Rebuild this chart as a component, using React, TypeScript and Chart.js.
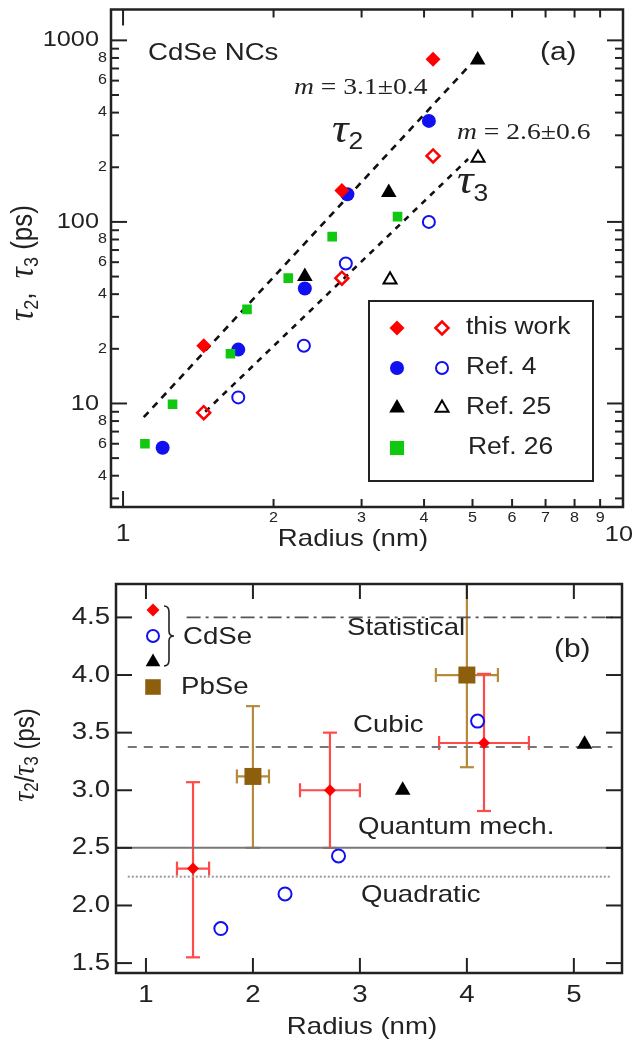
import React, { useEffect, useRef } from "react";
import { Chart, registerables } from "chart.js";
Chart.register(...registerables);

// ---------- Panel (a) data: radius (nm) vs tau (ps) ----------
const thisWorkR = [1.45, 2.74, 4.17];
const thisWorkTau2 = [20.8, 149, 787];
const thisWorkTau3 = [8.9, 49, 231];
const ref4Tau2R = [1.2, 1.7, 2.31, 2.81, 4.09];
const ref4Tau2 = [5.7, 19.8, 43, 142, 360];
const ref4Tau3R = [1.7, 2.3, 2.79, 4.09];
const ref4Tau3 = [10.8, 20.8, 59, 100];
const ref25Tau2R = [2.31, 3.4, 5.12];
const ref25Tau2 = [50, 145, 780];
const ref25Tau3R = [3.42, 5.13];
const ref25Tau3 = [48, 225];
const ref26R = [1.106, 1.256, 1.64, 1.77, 2.14, 2.62, 3.54];
const ref26Tau = [6.0, 9.9, 18.8, 33, 49, 83, 107];
const fitTau2R = [1.1, 4.95];
const fitTau2 = [8.4, 735];
const fitTau3R = [1.46, 4.9];
const fitTau3 = [9.0, 222];

const aXMajor = [1, 10];
const aXMinor = [2, 3, 4, 5, 6, 7, 8, 9];
const aYMajor = [10, 100, 1000];
const aYMinor = [3, 4, 5, 6, 7, 8, 9, 20, 30, 40, 50, 60, 70, 80, 90, 200, 300, 400, 500, 600, 700, 800, 900];
const aYMinorLabeled = [4, 6, 8, 20, 40, 60, 80, 200, 400, 600, 800];

// ---------- Panel (b) data: radius (nm) vs tau2/tau3 ----------
const twR = [1.44, 2.72, 4.16];
const twRatio = [2.32, 3.0, 3.41];
const twRErr = [0.15, 0.28, 0.42];
const twRatioLo = [1.55, 2.5, 2.82];
const twRatioHi = [3.07, 3.5, 4.01];
const pbR = [2.0, 4.0];
const pbRatio = [3.12, 4.0];
const pbRErr = [0.15, 0.29];
const pbRatioLo = [2.5, 3.2];
const pbRatioHi = [3.73, 4.95];
const r4R = [1.7, 2.3, 2.8, 4.1];
const r4Ratio = [1.8, 2.1, 2.43, 3.6];
const r25R = [3.4, 5.1];
const r25Ratio = [3.0, 3.4];
const statR = [1.38, 5.36];
const statVal = 4.5;
const cubicR = [0.83, 5.36];
const cubicVal = 3.375;
const quantR = [0.72, 5.45];
const quantVal = 2.5;
const quadR = [0.83, 5.35];
const quadVal = 2.25;

const bXTicks = [1, 2, 3, 4, 5];
const bYTicks = [1.5, 2.0, 2.5, 3.0, 3.5, 4.0, 4.5];

// ---------- helpers ----------
const SANS = '"Liberation Sans", Arial, Helvetica, sans-serif';
const SERIF = '"Liberation Serif", "Times New Roman", serif';
const SX = 1.15;
const INK = "#222";
const OFF_B = 572;

type Part = { t: string; f: string; dy?: number };

function rich(ctx: CanvasRenderingContext2D, parts: Part[], x: number, y: number, align: string, rot = 0, color = INK) {
  ctx.save();
  ctx.translate(x, y);
  ctx.scale(SX, 1);
  if (rot) ctx.rotate(rot);
  ctx.textBaseline = "middle";
  ctx.textAlign = "left";
  ctx.fillStyle = color;
  let w = 0;
  for (const p of parts) {
    ctx.font = p.f;
    w += ctx.measureText(p.t).width;
  }
  let cx = align === "left" ? 0 : align === "center" ? -w / 2 : -w;
  for (const p of parts) {
    ctx.font = p.f;
    ctx.fillText(p.t, cx, p.dy || 0);
    cx += ctx.measureText(p.t).width;
  }
  ctx.restore();
}

function txt(ctx: CanvasRenderingContext2D, t: string, f: string, x: number, y: number, align: string) {
  rich(ctx, [{ t, f }], x, y, align);
}

function marker(ctx: CanvasRenderingContext2D, style: string, x: number, y: number, r: number, fill: string | null, stroke: string | null, lw: number) {
  ctx.save();
  ctx.beginPath();
  if (style === "circle") ctx.arc(x, y, r, 0, Math.PI * 2);
  else if (style === "rectRot") {
    ctx.moveTo(x - r, y);
    ctx.lineTo(x, y - r);
    ctx.lineTo(x + r, y);
    ctx.lineTo(x, y + r);
    ctx.closePath();
  } else if (style === "triangle") {
    ctx.moveTo(x, y - r);
    ctx.lineTo(x + 0.866 * r, y + 0.5 * r);
    ctx.lineTo(x - 0.866 * r, y + 0.5 * r);
    ctx.closePath();
  } else {
    const s = r * Math.SQRT1_2;
    ctx.rect(x - s, y - s, 2 * s, 2 * s);
  }
  if (fill) {
    ctx.fillStyle = fill;
    ctx.fill();
  }
  if (stroke) {
    ctx.strokeStyle = stroke;
    ctx.lineWidth = lw;
    ctx.stroke();
  }
  ctx.restore();
}

function seg(ctx: CanvasRenderingContext2D, x1: number, y1: number, x2: number, y2: number) {
  ctx.beginPath();
  ctx.moveTo(x1, y1);
  ctx.lineTo(x2, y2);
  ctx.stroke();
}

const pts = (xs: number[], ys: number[]) => xs.map((x, i) => ({ x, y: ys[i] }));
const hpts = (xs: number[], v: number) => xs.map((x) => ({ x, y: v }));

const RED = "#ff0000";
const BLUE = "#1010f0";
const GREEN = "#11c811";
const BROWN = "#8d5e0c";
const BROWN_BAR = "#b58a3c";
const RED_BAR = "#ff4a4a";

// ---------- decoration plugins ----------
const decorA = {
  id: "decorA",
  afterDraw(chart: any) {
    const { ctx, chartArea: a, scales } = chart;
    const x = scales.x;
    const y = scales.y;
    ctx.save();
    ctx.strokeStyle = INK;
    ctx.lineWidth = 2;
    for (const v of aXMajor) {
      const px = x.getPixelForValue(v);
      seg(ctx, px, a.bottom, px, a.bottom - 16);
      seg(ctx, px, a.top, px, a.top + 16);
    }
    for (const v of aXMinor) {
      const px = x.getPixelForValue(v);
      seg(ctx, px, a.bottom, px, a.bottom - 8);
      seg(ctx, px, a.top, px, a.top + 8);
    }
    for (const v of aYMajor) {
      const py = y.getPixelForValue(v);
      seg(ctx, a.left, py, a.left + 16, py);
      seg(ctx, a.right, py, a.right - 16, py);
    }
    for (const v of aYMinor) {
      const py = y.getPixelForValue(v);
      seg(ctx, a.left, py, a.left + 8, py);
      seg(ctx, a.right, py, a.right - 8, py);
    }
    ctx.lineWidth = 2.5;
    ctx.strokeRect(a.left, a.top, a.right - a.left, a.bottom - a.top);

    // tick labels
    txt(ctx, String(aXMajor[0]), `23px ${SANS}`, x.getPixelForValue(aXMajor[0]), 535, "center");
    txt(ctx, String(aXMajor[1]), `22px ${SANS}`, 633, 535, "right");
    for (const v of aXMinor) txt(ctx, String(v), `14px ${SANS}`, x.getPixelForValue(v), 518, "center");
    for (const v of aYMajor) txt(ctx, String(v), `22px ${SANS}`, 99, y.getPixelForValue(v), "right");
    for (const v of aYMinorLabeled) {
      const lead = v / Math.pow(10, Math.floor(Math.log10(v)));
      txt(ctx, String(Math.round(lead)), `14px ${SANS}`, 107, y.getPixelForValue(v), "right");
    }
    // axis titles
    txt(ctx, "Radius (nm)", `24px ${SANS}`, 353, 539, "center");
    rich(
      ctx,
      [
        { t: "τ", f: `italic 31px ${SERIF}` },
        { t: "2", f: `18px ${SANS}`, dy: 7 },
        { t: ",  ", f: `26px ${SANS}` },
        { t: "τ", f: `italic 31px ${SERIF}` },
        { t: "3", f: `18px ${SANS}`, dy: 7 },
        { t: " (ps)", f: `26px ${SANS}` },
      ],
      24,
      263,
      "center",
      -Math.PI / 2
    );
    // annotations
    txt(ctx, "CdSe NCs", `24px ${SANS}`, 148, 53, "left");
    txt(ctx, "(a)", `26px ${SANS}`, 540, 53, "left");
    rich(ctx, [{ t: "m", f: `italic 24px ${SERIF}` }, { t: " = 3.1±0.4", f: `24px ${SERIF}` }], 294, 88, "left");
    rich(ctx, [{ t: "m", f: `italic 24px ${SERIF}` }, { t: " = 2.6±0.6", f: `24px ${SERIF}` }], 457, 133, "left");
    rich(ctx, [{ t: "τ", f: `italic 40px ${SERIF}` }, { t: "2", f: `23px ${SANS}`, dy: 12 }], 332, 131, "left");
    rich(ctx, [{ t: "τ", f: `italic 40px ${SERIF}` }, { t: "3", f: `23px ${SANS}`, dy: 13 }], 457, 182, "left");

    // legend
    ctx.lineWidth = 2;
    ctx.strokeStyle = INK;
    ctx.strokeRect(369, 301, 224, 180);
    const rows = [328, 368, 408, 448];
    marker(ctx, "rectRot", 397, rows[0], 7.5, RED, null, 0);
    marker(ctx, "rectRot", 442, rows[0], 6.5, null, RED, 2.5);
    marker(ctx, "circle", 397, rows[1], 7, BLUE, null, 0);
    marker(ctx, "circle", 442, rows[1], 6, null, BLUE, 2);
    marker(ctx, "triangle", 397, rows[2], 9, "#000", null, 0);
    marker(ctx, "triangle", 442, rows[2], 7.5, null, "#000", 2);
    marker(ctx, "rect", 397, rows[3], 10, GREEN, null, 0);
    txt(ctx, "this work", `23px ${SANS}`, 466, rows[0], "left");
    txt(ctx, "Ref. 4", `23px ${SANS}`, 466, rows[1], "left");
    txt(ctx, "Ref. 25", `23px ${SANS}`, 466, rows[2], "left");
    txt(ctx, "Ref. 26", `23px ${SANS}`, 468, rows[3], "left");
    ctx.restore();
  },
};

function errBars(chart: any, xs: number[], ys: number[], xe: number[], lo: number[], hi: number[], color: string) {
  const { ctx, chartArea: a, scales } = chart;
  const x = scales.x;
  const y = scales.y;
  ctx.save();
  ctx.beginPath();
  ctx.rect(a.left, a.top, a.right - a.left, a.bottom - a.top);
  ctx.clip();
  ctx.strokeStyle = color;
  ctx.lineWidth = 2.2;
  const cap = 7;
  for (let i = 0; i < xs.length; i++) {
    const px = x.getPixelForValue(xs[i]);
    const py = y.getPixelForValue(ys[i]);
    const pLo = y.getPixelForValue(lo[i]);
    const pHi = y.getPixelForValue(hi[i]);
    seg(ctx, px, pLo, px, pHi);
    seg(ctx, px - cap, pLo, px + cap, pLo);
    seg(ctx, px - cap, pHi, px + cap, pHi);
    const pL = x.getPixelForValue(xs[i] - xe[i]);
    const pR = x.getPixelForValue(xs[i] + xe[i]);
    seg(ctx, pL, py, pR, py);
    seg(ctx, pL, py - cap, pL, py + cap);
    seg(ctx, pR, py - cap, pR, py + cap);
  }
  ctx.restore();
}

const decorB = {
  id: "decorB",
  beforeDatasetsDraw(chart: any) {
    errBars(chart, pbR, pbRatio, pbRErr, pbRatioLo, pbRatioHi, BROWN_BAR);
    errBars(chart, twR, twRatio, twRErr, twRatioLo, twRatioHi, RED_BAR);
  },
  afterDraw(chart: any) {
    const { ctx, chartArea: a, scales } = chart;
    const x = scales.x;
    const y = scales.y;
    ctx.save();
    ctx.strokeStyle = INK;
    ctx.lineWidth = 2;
    for (const v of bXTicks) {
      const px = x.getPixelForValue(v);
      seg(ctx, px, a.bottom, px, a.bottom - 15);
      seg(ctx, px, a.top, px, a.top + 15);
    }
    for (const v of bYTicks) {
      const py = y.getPixelForValue(v);
      seg(ctx, a.left, py, a.left + 16, py);
      seg(ctx, a.right, py, a.right - 16, py);
    }
    ctx.lineWidth = 2.5;
    ctx.strokeRect(a.left, a.top, a.right - a.left, a.bottom - a.top);

    for (const v of bXTicks) txt(ctx, String(v), `24px ${SANS}`, x.getPixelForValue(v), 995 - OFF_B, "center");
    for (const v of bYTicks) txt(ctx, v.toFixed(1), `24px ${SANS}`, 110, y.getPixelForValue(v), "right");
    txt(ctx, "Radius (nm)", `24px ${SANS}`, 362, 1027 - OFF_B, "center");
    rich(
      ctx,
      [
        { t: "τ", f: `italic 28px ${SERIF}` },
        { t: "2", f: `17px ${SANS}`, dy: 6 },
        { t: "/", f: `24px ${SANS}` },
        { t: "τ", f: `italic 28px ${SERIF}` },
        { t: "3", f: `17px ${SANS}`, dy: 6 },
        { t: " (ps)", f: `24px ${SANS}` },
      ],
      26,
      755 - OFF_B,
      "center",
      -Math.PI / 2
    );
    txt(ctx, "Statistical", `24px ${SANS}`, 347, 628 - OFF_B, "left");
    txt(ctx, "Cubic", `24px ${SANS}`, 353, 725 - OFF_B, "left");
    txt(ctx, "Quantum mech.", `24px ${SANS}`, 358, 827 - OFF_B, "left");
    txt(ctx, "Quadratic", `24px ${SANS}`, 361, 895 - OFF_B, "left");
    txt(ctx, "(b)", `26px ${SANS}`, 554, 650 - OFF_B, "left");

    // legend
    marker(ctx, "rectRot", 153, 610 - OFF_B, 6.5, RED, null, 0);
    marker(ctx, "circle", 153, 636 - OFF_B, 6, null, BLUE, 2);
    marker(ctx, "triangle", 153, 662 - OFF_B, 8.5, "#000", null, 0);
    marker(ctx, "rect", 153, 687 - OFF_B, 11, BROWN, null, 0);
    // brace
    const bx = 164;
    const t = 606 - OFF_B;
    const m = 636 - OFF_B;
    const b = 666 - OFF_B;
    ctx.strokeStyle = INK;
    ctx.lineWidth = 1.6;
    ctx.beginPath();
    ctx.moveTo(bx, t);
    ctx.quadraticCurveTo(bx + 5, t, bx + 5, t + 6);
    ctx.lineTo(bx + 5, m - 5);
    ctx.quadraticCurveTo(bx + 5, m, bx + 10, m);
    ctx.quadraticCurveTo(bx + 5, m, bx + 5, m + 5);
    ctx.lineTo(bx + 5, b - 6);
    ctx.quadraticCurveTo(bx + 5, b, bx, b);
    ctx.stroke();
    txt(ctx, "CdSe", `24px ${SANS}`, 183, 637 - OFF_B, "left");
    txt(ctx, "PbSe", `24px ${SANS}`, 181, 687 - OFF_B, "left");
    ctx.restore();
  },
};

export default function App() {
  const aRef = useRef<HTMLCanvasElement>(null);
  const bRef = useRef<HTMLCanvasElement>(null);

  useEffect(() => {
    document.body.style.margin = "0";
    const common = {
      responsive: false,
      animation: false,
      devicePixelRatio: 1,
      events: [],
      plugins: { legend: { display: false }, tooltip: { enabled: false } },
    };
    const ca = new Chart(aRef.current as HTMLCanvasElement, {
      type: "scatter",
      data: {
        datasets: [
          { label: "this work τ2", data: pts(thisWorkR, thisWorkTau2), pointStyle: "rectRot", pointRadius: 7.5, backgroundColor: RED, borderColor: RED, borderWidth: 0, order: 1 },
          { label: "this work τ3", data: pts(thisWorkR, thisWorkTau3), pointStyle: "rectRot", pointRadius: 6.5, backgroundColor: "rgba(0,0,0,0)", borderColor: RED, borderWidth: 2.5, order: 1 },
          { label: "Ref. 4 τ2", data: pts(ref4Tau2R, ref4Tau2), pointStyle: "circle", pointRadius: 7, backgroundColor: BLUE, borderColor: BLUE, borderWidth: 0, order: 3 },
          { label: "Ref. 4 τ3", data: pts(ref4Tau3R, ref4Tau3), pointStyle: "circle", pointRadius: 6, backgroundColor: "rgba(0,0,0,0)", borderColor: BLUE, borderWidth: 2, order: 3 },
          { label: "Ref. 25 τ2", data: pts(ref25Tau2R, ref25Tau2), pointStyle: "triangle", pointRadius: 9, backgroundColor: "#000", borderColor: "#000", borderWidth: 0, order: 0 },
          { label: "Ref. 25 τ3", data: pts(ref25Tau3R, ref25Tau3), pointStyle: "triangle", pointRadius: 7.5, backgroundColor: "rgba(0,0,0,0)", borderColor: "#000", borderWidth: 2, order: 0 },
          { label: "Ref. 26", data: pts(ref26R, ref26Tau), pointStyle: "rect", pointRadius: 6.8, backgroundColor: GREEN, borderColor: GREEN, borderWidth: 0, order: 2 },
          { label: "fit τ2", data: pts(fitTau2R, fitTau2), showLine: true, pointRadius: 0, borderColor: "#111", borderWidth: 2.6, borderDash: [7, 6], order: 10 },
          { label: "fit τ3", data: pts(fitTau3R, fitTau3), showLine: true, pointRadius: 0, borderColor: "#111", borderWidth: 2.6, borderDash: [6, 6], order: 10 },
        ],
      },
      options: {
        ...common,
        layout: { padding: { left: 111, top: 7, right: 11, bottom: 65 } },
        scales: {
          x: { type: "logarithmic", min: 0.946, max: 10, display: false },
          y: { type: "logarithmic", min: 2.69, max: 1479, display: false },
        },
      } as any,
      plugins: [decorA],
    } as any);

    const cb = new Chart(bRef.current as HTMLCanvasElement, {
      type: "scatter",
      data: {
        datasets: [
          { label: "this work", data: pts(twR, twRatio), pointStyle: "rectRot", pointRadius: 6, backgroundColor: RED, borderColor: RED, borderWidth: 0, order: 0 },
          { label: "PbSe", data: pts(pbR, pbRatio), pointStyle: "rect", pointRadius: 12, backgroundColor: BROWN, borderColor: BROWN, borderWidth: 0, order: 1 },
          { label: "Ref. 4", data: pts(r4R, r4Ratio), pointStyle: "circle", pointRadius: 6.5, backgroundColor: "rgba(0,0,0,0)", borderColor: BLUE, borderWidth: 2, order: 1 },
          { label: "Ref. 25", data: pts(r25R, r25Ratio), pointStyle: "triangle", pointRadius: 9, backgroundColor: "#000", borderColor: "#000", borderWidth: 0, order: 1 },
          { label: "Statistical", data: hpts(statR, statVal), showLine: true, pointRadius: 0, borderColor: "#555", borderWidth: 1.8, borderDash: [14, 5, 3, 5], order: 10 },
          { label: "Cubic", data: hpts(cubicR, cubicVal), showLine: true, pointRadius: 0, borderColor: "#777", borderWidth: 2, borderDash: [9, 7], order: 10 },
          { label: "Quantum mech.", data: hpts(quantR, quantVal), showLine: true, pointRadius: 0, borderColor: "#777", borderWidth: 2, order: 10 },
          { label: "Quadratic", data: hpts(quadR, quadVal), showLine: true, pointRadius: 0, borderColor: "#999", borderWidth: 2, borderDash: [2, 2], order: 10 },
        ],
      },
      options: {
        ...common,
        layout: { padding: { left: 116, top: 8, right: 6, bottom: 71 } },
        scales: {
          x: { type: "linear", min: 0.72, max: 5.45, display: false },
          y: { type: "linear", min: 1.414, max: 4.79, display: false },
        },
      } as any,
      plugins: [decorB],
    } as any);

    return () => {
      ca.destroy();
      cb.destroy();
    };
  }, []);

  return (
    <div style={{ width: 634, height: 1044, position: "relative", background: "#fff" }}>
      <canvas ref={aRef} width={634} height={572} style={{ position: "absolute", left: 0, top: 0, width: 634, height: 572 }} />
      <canvas ref={bRef} width={634} height={472} style={{ position: "absolute", left: 0, top: OFF_B, width: 634, height: 472 }} />
    </div>
  );
}
